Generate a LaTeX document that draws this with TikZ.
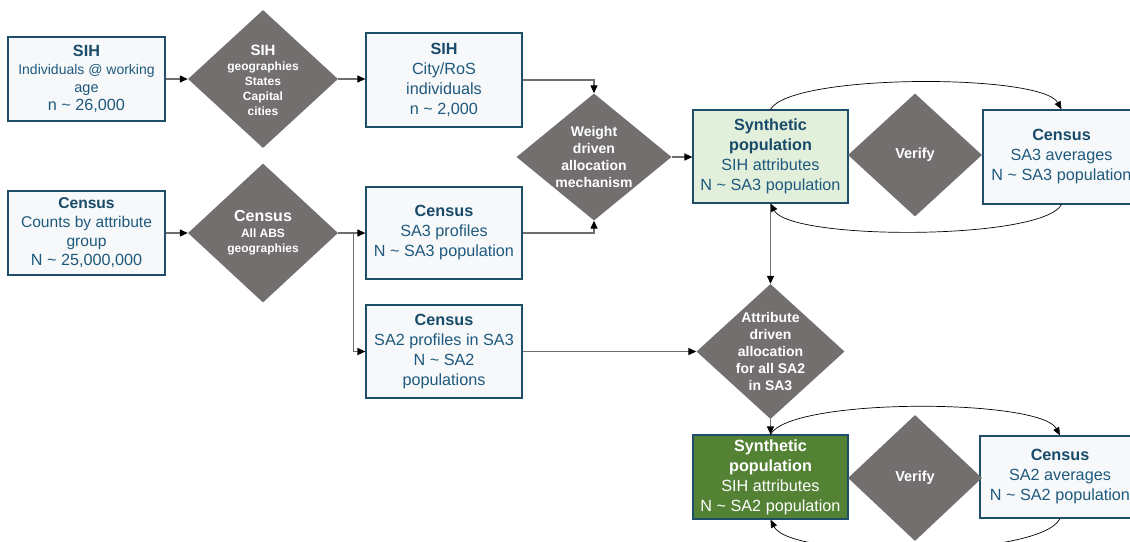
\documentclass[tikz,border=0pt]{standalone}
\usepackage{fontspec}
\setmainfont{Liberation Sans}
\usetikzlibrary{shapes.geometric,arrows.meta,calc}
\definecolor{boxline}{HTML}{1F4E6B}
\definecolor{boxfill}{HTML}{F7F8F9}
\definecolor{titleblue}{HTML}{184A6A}
\definecolor{bodyblue}{HTML}{1F5A7E}
\definecolor{diafill}{HTML}{736F6F}
\definecolor{lightgreen}{HTML}{E2EFDA}
\definecolor{darkgreen}{HTML}{548235}
\definecolor{linkgrey}{HTML}{6E6E6E}
\begin{document}
\begin{tikzpicture}[x=1pt,y=-1pt,
  box/.style={draw=boxline, fill=boxfill, line width=1.2pt, inner sep=1pt, align=center,
    text=bodyblue, font=\fontsize{16.2}{20}\selectfont},
  dia/.style={diamond, fill=diafill, draw=none, inner sep=0pt},
  dtext/.style={align=center, text=white, font=\bfseries\fontsize{14}{17}\selectfont},
  link/.style={draw=linkgrey, line width=1.3pt, -{Triangle[length=8pt,width=7pt,color=black]}},
  loopline/.style={draw=black, line width=0.7pt, -{Triangle[length=8pt,width=6.5pt]}}
]
\clip (0,0) rectangle (1130,541);
\fill[white] (0,0) rectangle (1130,541);

% boxes
\node[box, font=\fontsize{16.2}{18}\selectfont, minimum width=157pt, minimum height=84pt] (sih) at (86.5,79)
  {{\bfseries\color{titleblue}SIH}\\{\fontsize{14}{18}\selectfont Individuals @ working}\\{\fontsize{14.5}{18}\selectfont age}\\n \textasciitilde{} 26,000};
\node[box, minimum width=156pt, minimum height=94pt] (sihcity) at (444,80)
  {{\bfseries\color{titleblue}SIH}\\City/RoS\\individuals\\n \textasciitilde{} 2,000};
\node[box, font=\fontsize{15.6}{19}\selectfont, minimum width=157pt, minimum height=84pt] (census) at (86.5,233)
  {{\bfseries\color{titleblue}Census}\\Counts by attribute\\group\\{\fontsize{16.2}{19}\selectfont N \textasciitilde{} 25,000,000}};
\node[box, minimum width=156pt, minimum height=92pt] (sa3prof) at (444,233)
  {{\bfseries\color{titleblue}Census}\\SA3 profiles\\N \textasciitilde{} SA3 population};
\node[box, minimum width=156pt, minimum height=93pt] (sa2prof) at (444,351.5)
  {{\bfseries\color{titleblue}Census}\\SA2 profiles in SA3\\N \textasciitilde{} SA2\\populations};
\node[box, fill=lightgreen, minimum width=155pt, minimum height=93pt] (syn3) at (770.5,156.5)
  {{\bfseries\color{titleblue}Synthetic}\\{\bfseries\color{titleblue}population}\\SIH attributes\\N \textasciitilde{} SA3 population};
\node[box, minimum width=157pt, minimum height=94pt] (avg3) at (1061.5,157)
  {{\bfseries\color{titleblue}Census}\\SA3 averages\\N \textasciitilde{} SA3 population};
\node[box, fill=darkgreen, text=white, minimum width=155pt, minimum height=84pt] (syn2) at (770.5,477)
  {{\bfseries Synthetic}\\{\bfseries population}\\SIH attributes\\N \textasciitilde{} SA2 population};
\node[box, minimum width=160pt, minimum height=82pt] (avg2) at (1060,477)
  {{\bfseries\color{titleblue}Census}\\SA2 averages\\N \textasciitilde{} SA2 population};

% diamonds
\node[dia, minimum width=150pt, minimum height=138pt] (dsih) at (263,79) {};
\node[dtext, font=\bfseries\fontsize{12}{15}\selectfont] (tsih) at (263,80.5)
  {{\fontsize{15}{15}\selectfont SIH}\\geographies\\States\\Capital\\cities};
\node[dia, minimum width=150pt, minimum height=139pt] (dcen) at (263,233) {};
\node[dtext, font=\bfseries\fontsize{12}{15.5}\selectfont] (tcen) at (263,233)
  {{\fontsize{16}{16}\selectfont Census}\\All ABS\\geographies};
\node[dia, minimum width=155pt, minimum height=127pt] (dweight) at (594,157) {};
\node[dtext] (tweight) at (594,157) {Weight\\driven\\allocation\\mechanism};
\node[dia, minimum width=134pt, minimum height=123pt] (dver1) at (915,155) {};
\node[dtext, font=\bfseries\fontsize{14.5}{17}\selectfont] (tver1) at (915,155) {Verify};
\node[dia, minimum width=148pt, minimum height=135pt] (dattr) at (770.5,351.5) {};
\node[dtext] (tattr) at (770.5,351.5) {Attribute\\driven\\allocation\\for all SA2\\in SA3};
\node[dia, minimum width=134pt, minimum height=126pt] (dver2) at (915,478) {};
\node[dtext, font=\bfseries\fontsize{14.5}{17}\selectfont] (tver2) at (915,478) {Verify};

% connectors
\draw[link] (sih.east) -- (dsih.west);
\draw[link] (dsih.east) -- (dsih.east -| sihcity.west);
\draw[link] (census.east) -- (dcen.west);
\draw[link] (dcen.east) -- (sa3prof.west);
\draw[link] (dcen.east) -- ++(15,0) |- (sa2prof.west);
\draw[link] (sihcity.east) -| (dweight.north);
\draw[link] (sa3prof.east) -| (dweight.south);
\draw[link] (dweight.east) -- (dweight.east -| syn3.west);
\draw[link] (syn3.south) -- (dattr.north);
\draw[link] (sa2prof.east) -- (dattr.west);
\draw[link] (dattr.south) -- (syn2.north);

% verification loops
\draw[loopline] (syn3.north) .. controls +(20,-36) and +(-20,-36) .. (avg3.north);
\draw[loopline] (avg3.south) .. controls +(-20,36) and +(20,37) .. (syn3.south);
\draw[loopline] (syn2.north) .. controls +(20,-37) and +(-20,-37) .. (avg2.north);
\draw[loopline] (avg2.south) .. controls +(-20,40) and +(20,40) .. (syn2.south);
\end{tikzpicture}
\end{document}
